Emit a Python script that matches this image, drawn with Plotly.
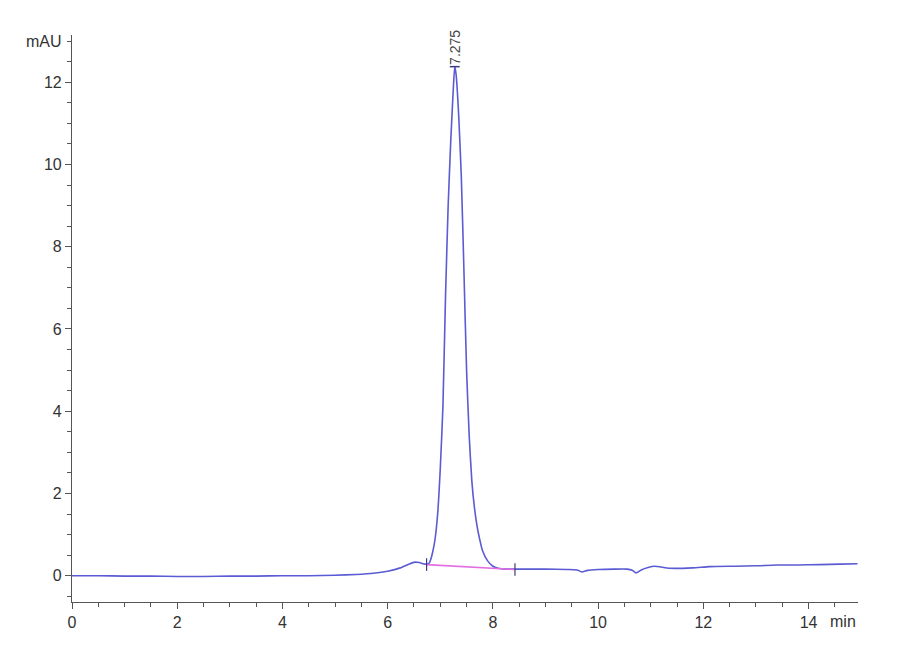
import plotly.graph_objects as go

# Chromatogram signal (time in min, absorbance in mAU)
time_min = [0.0, 0.5, 1.0, 1.5, 2.0, 2.5, 3.0, 3.5, 4.0, 4.5, 5.0, 5.4, 5.73, 6.0, 6.24,
            6.4, 6.52, 6.6, 6.71, 6.78, 6.82, 6.86, 6.9, 6.95, 7.0, 7.05, 7.1, 7.15, 7.2,
            7.25, 7.275, 7.3, 7.35, 7.4, 7.45, 7.5, 7.55, 7.6, 7.65, 7.7, 7.75, 7.8,
            7.9, 8.0, 8.1, 8.25, 8.42, 8.7, 9.0, 9.4, 9.6, 9.69, 9.8, 10.0, 10.3, 10.55,
            10.65, 10.72, 10.82, 10.95, 11.07, 11.36, 11.8, 12.12, 12.6, 13.0, 13.39,
            13.8, 14.2, 14.6, 14.93]
signal_mau = [0.0, 0.0, -0.01, -0.01, -0.02, -0.02, -0.01, -0.01, 0.0, 0.0, 0.01, 0.03,
              0.06, 0.11, 0.19, 0.28, 0.33, 0.32, 0.28, 0.29, 0.4, 0.6, 0.88, 1.5, 2.6,
              4.1, 6.8, 9.0, 10.6, 11.9, 12.38, 12.2, 11.2, 9.7, 7.4, 5.0, 3.4, 2.3, 1.65,
              1.2, 0.88, 0.62, 0.36, 0.23, 0.18, 0.16, 0.16, 0.16, 0.16, 0.15, 0.14, 0.09,
              0.13, 0.15, 0.16, 0.16, 0.13, 0.065, 0.14, 0.2, 0.23, 0.18, 0.19, 0.22, 0.23,
              0.24, 0.26, 0.26, 0.27, 0.28, 0.29]

# Integration baseline of the main peak
baseline_time = [6.74, 8.42]
baseline_mau = [0.27, 0.15]

# Peak annotation
peak_time = 7.275
peak_height = 12.38
peak_label = "7.275"

x_major_ticks = [0, 2, 4, 6, 8, 10, 12, 14]
y_major_ticks = [0, 2, 4, 6, 8, 10, 12]

line_color = "#5b5bd3"
baseline_color = "#e26ee2"
axis_color = "#555555"
tick_font = dict(family="Liberation Sans Narrow, Arial Narrow, Liberation Sans, sans-serif",
                 size=16, color="#333333")

fig = go.Figure()
fig.add_trace(go.Scatter(
    x=time_min, y=signal_mau, mode="lines",
    line=dict(color=line_color, width=1.6, shape="spline", smoothing=0.5),
    hoverinfo="x+y", showlegend=False))
fig.add_trace(go.Scatter(
    x=baseline_time, y=baseline_mau, mode="lines",
    line=dict(color=baseline_color, width=1.6), showlegend=False))
fig.add_trace(go.Scatter(
    x=baseline_time, y=baseline_mau, mode="markers",
    marker=dict(symbol="line-ns", size=9, line=dict(color="#3a3a80", width=1.2)),
    showlegend=False))
fig.add_trace(go.Scatter(
    x=[peak_time], y=[peak_height], mode="markers",
    marker=dict(symbol="line-ew", size=7, line=dict(color="#3a3a80", width=1.5)),
    showlegend=False))

fig.add_annotation(x=peak_time, y=peak_height, text=peak_label, textangle=-90,
                   showarrow=False, xanchor="center", yanchor="bottom",
                   font=dict(family="Liberation Sans, Arial, sans-serif", size=14,
                             color="#444444"))
fig.add_annotation(x=0, y=13, xref="x", yref="y", text="mAU", showarrow=False,
                   xanchor="right", yanchor="middle", xshift=-8, font=tick_font)
fig.add_annotation(x=1, y=0, xref="paper", yref="paper", text="min", showarrow=False,
                   xanchor="right", yanchor="top", yshift=-9, font=tick_font)

fig.update_xaxes(
    range=[0, 14.94], showline=True, linecolor=axis_color, linewidth=1.2,
    showgrid=False, zeroline=False, ticks="outside", ticklen=6, tickwidth=1.2,
    tickcolor=axis_color, tickvals=x_major_ticks, tickfont=tick_font,
    minor=dict(dtick=0.5, ticks="outside", ticklen=4, tickwidth=1, tickcolor=axis_color,
               showgrid=False))
fig.update_yaxes(
    range=[-0.64, 13.15], showline=True, linecolor=axis_color, linewidth=1.2,
    showgrid=False, zeroline=False, ticks="outside", ticklen=6, tickwidth=1.2,
    tickcolor=axis_color, tickvals=y_major_ticks, tickfont=tick_font,
    minor=dict(dtick=0.5, tick0=0, ticks="outside", ticklen=4, tickwidth=1,
               tickcolor=axis_color, showgrid=False))

fig.update_layout(
    width=900, height=660,
    margin=dict(l=64, r=50, t=27, b=66),
    plot_bgcolor="white", paper_bgcolor="white",
    showlegend=False)

fig.write_html("out.html")
